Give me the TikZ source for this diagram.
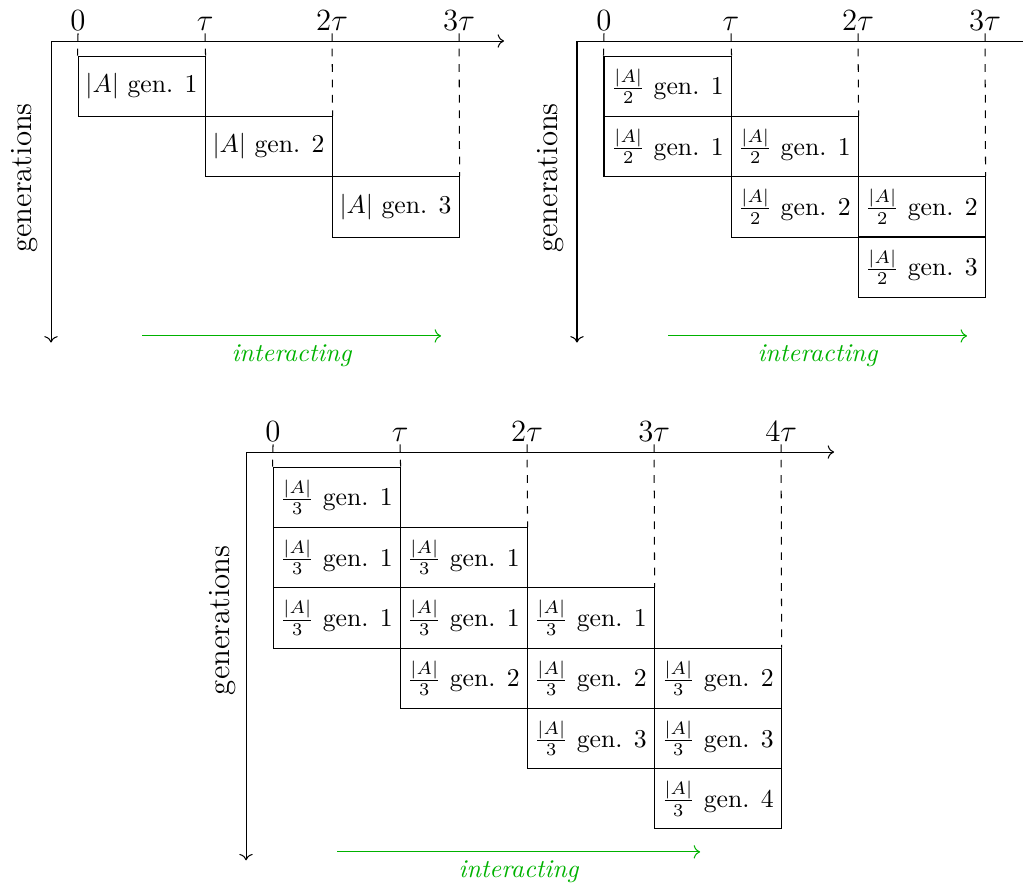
\documentclass[tikz,border=0pt]{standalone}
\usetikzlibrary{arrows.meta,calc}

\begin{document}
\begin{tikzpicture}[
  axis/.style={->},
  tickline/.style={draw, dashed},
  ticklab/.style={font=\large, anchor=south, inner sep=1pt},
  cell/.style={draw, minimum width=1.737cm, minimum height=0.825cm, inner sep=0pt},
  flow/.style={->, draw=green!70!black},
  flowlab/.style={text=green!70!black, font=\itshape},
  genlab/.style={font=\large, rotate=90}
]
\path[use as bounding box] (0,0) rectangle (13.990,-12.185);

% one copy of A
\begin{scope}[shift={(1.067,-0.561)}, x=1.737cm, y=-0.8247cm]
  \coordinate (a-o) at (-0.2126,0);
  \coordinate (a-x) at (3.354,0);
  \coordinate (a-y) at (-0.2126,5.0);
  \draw[axis] (a-o) -- (a-x);
  \draw[axis] (a-o) -- (a-y);
  \node[genlab] (a-g) at (-0.417,2.27) {generations};
  \node[cell] (a-1) at (0.5,0.75) {$|A|$ gen. 1};
  \node[cell] (a-2) at (1.5,1.75) {$|A|$ gen. 2};
  \node[cell] (a-3) at (2.5,2.75) {$|A|$ gen. 3};
  \foreach \j/\lab/\tgt in {0/0/a-1.north west, 1/\tau/a-1.north east,
                            2/2\tau/a-2.north east, 3/3\tau/a-3.north east} {
    \coordinate (a-t\j) at (\j,-0.128);
    \draw[tickline] (a-t\j) -- (\tgt);
    \node[ticklab] (a-l\j) at (a-t\j) {$\lab$};
  }
  \coordinate (a-f0) at (0.504,4.89);
  \coordinate (a-f1) at (2.858,4.89);
  \draw[flow] (a-f0) -- (a-f1) node[midway, below, flowlab] (a-fl) {interacting};
\end{scope}

% two copies of A/2
\begin{scope}[shift={(8.260,-0.561)}, x=1.737cm, y=-0.8247cm]
  \coordinate (b-o) at (-0.2126,0);
  \coordinate (b-x) at (3.354,0);
  \coordinate (b-y) at (-0.2126,5.0);
  \draw[axis] (b-o) -- (b-x);
  \draw[axis] (b-o) -- (b-y);
  \node[genlab] (b-g) at (-0.417,2.27) {generations};
  \foreach \r/\c/\g in {1/0/1, 2/0/1, 2/1/1, 3/1/2, 3/2/2, 4/2/3}
    \node[cell] (b-\r\c) at (\c+0.5,\r-0.25) {$\frac{|A|}{2}$ gen. \g};
  \foreach \j/\lab/\tgt in {0/0/b-10.north west, 1/\tau/b-10.north east,
                            2/2\tau/b-21.north east, 3/3\tau/b-32.north east} {
    \coordinate (b-t\j) at (\j,-0.128);
    \draw[tickline] (b-t\j) -- (\tgt);
    \node[ticklab] (b-l\j) at (b-t\j) {$\lab$};
  }
  \coordinate (b-f0) at (0.504,4.89);
  \coordinate (b-f1) at (2.858,4.89);
  \draw[flow] (b-f0) -- (b-f1) node[midway, below, flowlab] (b-fl) {interacting};
\end{scope}

% three copies of A/3
\begin{scope}[shift={(3.734,-6.182)}, x=1.737cm, y=-0.8247cm]
  \coordinate (c-o) at (-0.2126,0);
  \coordinate (c-x) at (4.417,0);
  \coordinate (c-y) at (-0.2126,6.77);
  \draw[axis] (c-o) -- (c-x);
  \draw[axis] (c-o) -- (c-y);
  \node[genlab] (c-g) at (-0.40,2.79) {generations};
  \foreach \r/\c/\g in {1/0/1, 2/0/1, 2/1/1, 3/0/1, 3/1/1, 3/2/1,
                        4/1/2, 4/2/2, 4/3/2, 5/2/3, 5/3/3, 6/3/4}
    \node[cell] (c-\r\c) at (\c+0.5,\r-0.25) {$\frac{|A|}{3}$ gen. \g};
  \foreach \j/\lab/\tgt in {0/0/c-10.north west, 1/\tau/c-10.north east,
                            2/2\tau/c-21.north east, 3/3\tau/c-32.north east,
                            4/4\tau/c-43.north east} {
    \coordinate (c-t\j) at (\j,-0.128);
    \draw[tickline] (c-t\j) -- (\tgt);
    \node[ticklab] (c-l\j) at (c-t\j) {$\lab$};
  }
  \coordinate (c-f0) at (0.504,6.63);
  \coordinate (c-f1) at (3.362,6.63);
  \draw[flow] (c-f0) -- (c-f1) node[midway, below, flowlab] (c-fl) {interacting};
\end{scope}
\end{tikzpicture}
\end{document}
